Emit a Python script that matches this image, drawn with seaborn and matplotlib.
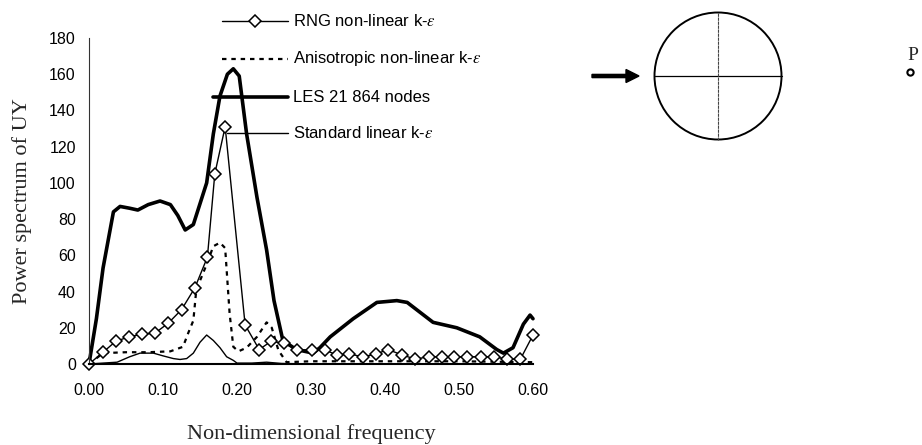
import numpy as np
import pandas as pd
import seaborn as sns
import matplotlib
matplotlib.use("Agg")
import matplotlib.pyplot as plt
from matplotlib.patches import Circle, FancyArrow
from matplotlib.lines import Line2D

# ---------------- data ----------------
les_f = [0.000, 0.010, 0.019, 0.033, 0.042, 0.055, 0.066, 0.080, 0.096, 0.110,
         0.120, 0.130, 0.141, 0.159, 0.168, 0.177, 0.187, 0.195, 0.203, 0.213,
         0.227, 0.240, 0.250, 0.262, 0.280, 0.303, 0.312, 0.326, 0.357, 0.389,
         0.416, 0.430, 0.465, 0.497, 0.528, 0.551, 0.560, 0.573, 0.587, 0.596, 0.600]
les_v = [0, 25, 53, 84, 87, 86, 85, 88, 90, 88,
         82, 74, 77, 100, 127, 148, 160, 163, 159, 127,
         92, 63, 35, 13, 8, 6, 9, 15, 25, 34,
         35, 34, 23, 20, 15, 8, 6, 9, 22, 27, 25]

rng_f = [0.000, 0.019, 0.036, 0.054, 0.072, 0.089, 0.107, 0.125, 0.143, 0.160,
         0.170, 0.184, 0.211, 0.230, 0.246, 0.263, 0.281, 0.301, 0.319, 0.335,
         0.352, 0.370, 0.388, 0.404, 0.423, 0.441, 0.459, 0.477, 0.493, 0.511,
         0.530, 0.547, 0.565, 0.583, 0.600]
rng_v = [0, 6.5, 12.5, 15, 16.5, 17, 22.5, 30, 42, 59,
         105, 131, 21.5, 8, 12.5, 11.5, 8, 7.7, 7.7, 5,
         5.5, 4, 5.5, 8, 5, 2.7, 4, 4, 4, 4,
         4, 4, 2.7, 2.7, 16]

ani_f = [0.000, 0.019, 0.050, 0.080, 0.110, 0.127, 0.134, 0.141, 0.145, 0.159,
         0.168, 0.177, 0.184, 0.190, 0.195, 0.202, 0.213, 0.227, 0.240, 0.247,
         0.256, 0.267, 0.300, 0.400, 0.500, 0.600]
ani_v = [0, 6, 6.5, 6.5, 7, 9.5, 17, 24, 41, 55,
         65, 67, 64, 28, 9.5, 7, 9, 15, 23, 20,
         7.5, 1, 1.5, 1.5, 1.5, 1]

std_f = [0.000, 0.038, 0.055, 0.069, 0.087, 0.100, 0.114, 0.123, 0.132, 0.141,
         0.150, 0.159, 0.168, 0.177, 0.186, 0.195, 0.200, 0.220, 0.240, 0.260,
         0.300, 0.600]
std_v = [0, 1, 4, 6, 6, 4.5, 3, 2.5, 3, 6,
         12, 16, 13, 9, 4, 2, 0.5, 0.5, 1, 0.3,
         0, 0]

x_ticks = [0.0, 0.1, 0.2, 0.3, 0.4, 0.5, 0.6]
y_ticks = [0, 20, 40, 60, 80, 100, 120, 140, 160, 180]

legend_labels = [r"RNG non-linear k-$\varepsilon$",
                 r"Anisotropic non-linear k-$\varepsilon$",
                 "LES 21 864 nodes",
                 r"Standard linear k-$\varepsilon$"]

# ---------------- style ----------------
sns.set_style("white")
plt.rcParams["font.family"] = ["Liberation Sans", "DejaVu Sans"]
plt.rcParams["mathtext.fontset"] = "stix"

W, H = 922, 445
fig = plt.figure(figsize=(W / 100, H / 100), dpi=100)

# axes placement in pixels
ax_l, ax_r, ax_t, ax_b = 89, 533, 38, 364
ax = fig.add_axes([ax_l / W, 1 - ax_b / H, (ax_r - ax_l) / W, (ax_b - ax_t) / H])

sns.lineplot(x=std_f, y=std_v, ax=ax, color="black", lw=1.0, sort=False, estimator=None)
sns.lineplot(x=ani_f, y=ani_v, ax=ax, color="black", lw=1.6, sort=False, estimator=None,
             linestyle=(0, (2, 2.2)))
sns.lineplot(x=les_f, y=les_v, ax=ax, color="black", lw=2.6, sort=False, estimator=None)
sns.lineplot(x=rng_f, y=rng_v, ax=ax, color="black", lw=1.0, sort=False, estimator=None,
             marker="D", markersize=6, markerfacecolor="white", markeredgecolor="black",
             markeredgewidth=1.1)
for ln in ax.get_lines():
    ln.set_clip_on(False)

ax.set_xlim(0, 0.6)
ax.set_ylim(0, 180)
ax.set_xticks(x_ticks)
ax.set_xticklabels([f"{v:.2f}" for v in x_ticks])
ax.set_yticks(y_ticks)
ax.set_yticklabels([str(v) for v in y_ticks])
ax.tick_params(axis="x", direction="inout", length=8, width=1.2, pad=10, labelsize=11.5, colors="black")
ax.tick_params(axis="y", direction="inout", length=5, width=0.8, pad=7, labelsize=11.5, colors="black")
for s in ["top", "right"]:
    ax.spines[s].set_visible(False)
ax.spines["left"].set_linewidth(0.8)
ax.spines["left"].set_color("#333333")
ax.spines["bottom"].set_linewidth(1.5)
ax.spines["bottom"].set_color("black")
ax.set_facecolor("none")

ax.set_xlabel("Non-dimensional frequency", family="Liberation Serif", fontsize=16)
ax.set_ylabel("Power spectrum of UY", family="Liberation Serif", fontsize=16)
ax.xaxis.set_label_coords(0.5, (ax_b - 424) / (ax_b - ax_t))
ax.yaxis.set_label_coords((32 - ax_l) / (ax_r - ax_l), 0.5)

# ---------------- overlay in pixel coordinates ----------------
ov = fig.add_axes([0, 0, 1, 1])
ov.set_xlim(0, W)
ov.set_ylim(H, 0)
ov.axis("off")
ov.patch.set_alpha(0)

rows_y = [21, 59, 97, 133]
starts = [222, 222, 213, 227]
styles = [dict(lw=1.0, ls="-"), dict(lw=1.6, ls=(0, (2, 2.2))), dict(lw=2.6, ls="-"), dict(lw=1.0, ls="-")]
for lab, yy, x0, st in zip(legend_labels, rows_y, starts, styles):
    ov.add_line(Line2D([x0, 288], [yy, yy], color="black", **st))
    ov.text(293, yy, lab, fontsize=12, va="center", ha="left", color="black")
ov.plot([255], [rows_y[0]], marker="D", markersize=6, markerfacecolor="white",
        markeredgecolor="black", markeredgewidth=1.1)

# cylinder sketch
cx, cy, r = 718, 76, 63.5
ov.add_patch(Circle((cx, cy), r, fill=False, lw=1.4, ec="black"))
ov.plot([cx - r, cx + r], [cy, cy], color="black", lw=0.9)
ov.plot([cx, cx], [cy - r, cy + r], color="#444444", lw=0.8, ls=(0, (3, 0.6)))
ov.add_patch(FancyArrow(592, cy, 34, 0, width=3.2, head_width=13, head_length=13,
                        length_includes_head=False, color="black"))

ov.text(913, 56, "P", family="Liberation Serif", fontsize=14, ha="center", va="center")
ov.plot([910], [72], marker="o", markersize=4.5, markerfacecolor="white",
        markeredgecolor="black", markeredgewidth=1.5)

fig.savefig("out.png", dpi=100, facecolor="white")
